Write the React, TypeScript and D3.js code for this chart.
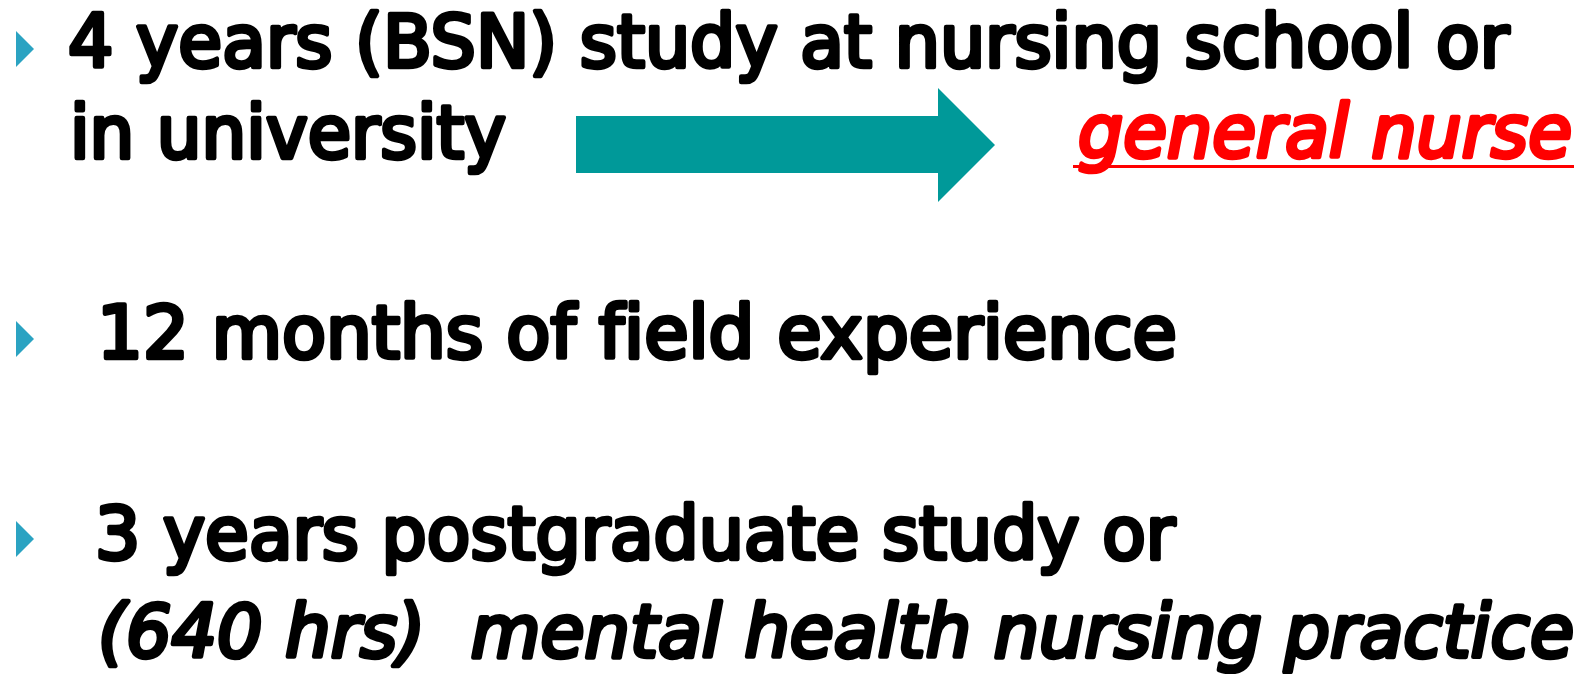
import React, { useEffect, useRef } from "react"
import * as d3 from "d3"

// slide content
const bulletTexts = [
  "4 years (BSN) study at nursing school or",
  "12 months of field experience",
  "3 years postgraduate study or",
]
const secondLines = ["in university", "", "(640 hrs)  mental health nursing practice"]
const secondItalic = [false, false, true]
const resultText = "general nurse"

// layout (px)
const bulletCenters = [49, 339, 539]
const firstBaselines = [67, 358, 559]
const firstLeft = [68, 97, 95]
const firstRight = [1509, 1177, 1175]
const secondBaselines = [158, 0, 657]
const secondLeft = [70, 0, 98]
const secondRight = [506, 0, 1574]

const W = 1594
const H = 674

export default function App() {
  const ref = useRef<SVGSVGElement>(null)

  useEffect(() => {
    const svg = d3.select(ref.current)
    svg.selectAll("*").remove()
    svg.append("rect").attr("width", W).attr("height", H).attr("fill", "white")

    const font = "'DejaVu Sans', Verdana, sans-serif"

    // bullets
    bulletCenters.forEach(cy => {
      const p = d3.path()
      p.moveTo(16, cy - 18)
      p.lineTo(34, cy)
      p.lineTo(16, cy + 18)
      p.closePath()
      svg.append("path").attr("d", p.toString()).attr("fill", "#2ba3c2")
    })

    const addText = (t: string, x: number, right: number, y: number, italic: boolean, color: string) =>
      svg.append("text")
        .attr("x", x)
        .attr("y", y)
        .attr("font-family", font)
        .attr("font-style", italic ? "italic" : "normal")
        .attr("font-size", 73)
        .attr("textLength", right - x)
        .attr("lengthAdjust", "spacingAndGlyphs")
        .style("white-space", "pre")
        .style("font-variant-ligatures", "none")
        .attr("fill", color)
        .attr("stroke", color)
        .attr("stroke-width", 4.5)
        .attr("stroke-linejoin", "round")
        .text(t)

    bulletTexts.forEach((t, i) => {
      addText(t, firstLeft[i], firstRight[i], firstBaselines[i], false, "black")
    })

    secondLines.forEach((t, i) => {
      if (!t) return
      addText(t, secondLeft[i], secondRight[i], secondBaselines[i], secondItalic[i], "black")
    })

    // arrow
    const a = d3.path()
    a.moveTo(576, 116)
    a.lineTo(938, 116)
    a.lineTo(938, 88)
    a.lineTo(995, 145)
    a.lineTo(938, 202)
    a.lineTo(938, 173)
    a.lineTo(576, 173)
    a.closePath()
    svg.append("path").attr("d", a.toString()).attr("fill", "#009999")

    // result
    addText(resultText, 1078, 1572, 157, true, "#ff0000")
    svg.append("rect")
      .attr("x", 1073)
      .attr("y", 165)
      .attr("width", 1574 - 1073)
      .attr("height", 3)
      .attr("fill", "#ff0000")
  }, [])

  return (
    <svg ref={ref} width={W} height={H}
      style={{ position: "absolute", left: 0, top: 0 }} />
  )
}
